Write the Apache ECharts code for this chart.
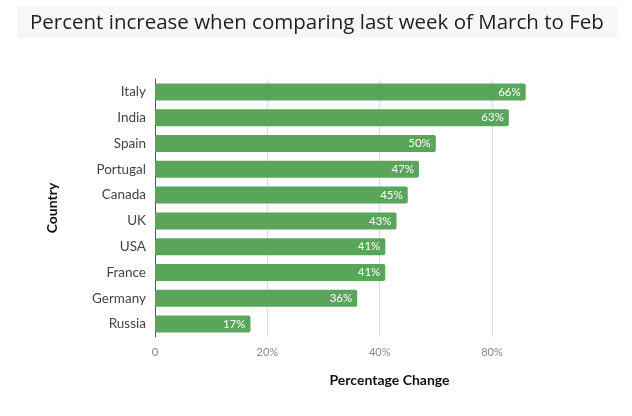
<!DOCTYPE html>
<html><head><meta charset="utf-8">
<script src="https://cdn.jsdelivr.net/npm/echarts@6/dist/echarts.min.js"></script>
<style>html,body{margin:0;padding:0;background:#fff}#c{width:632px;height:416px}</style>
</head><body><div id="c"></div>
<script>
const countries = ['Italy','India','Spain','Portugal','Canada','UK','USA','France','Germany','Russia'];
const values = [66,63,50,47,45,43,41,41,36,17];
const tickLabels = ['0','20%','40%','80%'];

const chart = echarts.init(document.getElementById('c'));
const F = 'Lato, "Noto Sans", sans-serif';
chart.setOption({
  animation: false,
  graphic: [{type:'rect', shape:{x:17,y:6,width:600,height:32}, style:{fill:'#f7f7f7'}, z:-1}],
  title: {text:'Percent increase when comparing last week of March to Feb', left:25, top:8,
    textStyle:{fontFamily:'"Open Sans", sans-serif', fontSize:20.5, fontWeight:'normal', color:'#222'}},
  grid: {left:155, right:140, top:79, height:258},
  xAxis: {type:'value', min:0, max:60, interval:20,
    name:'Percentage Change', nameLocation:'middle', nameGap:36,
    nameTextStyle:{fontFamily:F, fontSize:14, fontWeight:'bold', color:'#111', padding:[0,0,0,132]},
    axisLine:{show:false}, axisTick:{show:false},
    axisLabel:{fontFamily:F, fontSize:11, color:'#888', margin:10,
      formatter:(v)=>tickLabels[Math.round(v/20)] ?? ''},
    splitLine:{lineStyle:{color:'#ddd'}}},
  yAxis: {type:'category', data:countries, inverse:true,
    name:'Country', nameLocation:'middle', nameGap:96, nameRotate:90,
    nameTextStyle:{fontFamily:F, fontSize:14, fontWeight:'bold', color:'#111'},
    axisLine:{lineStyle:{color:'#555', width:1}}, axisTick:{show:false},
    axisLabel:{fontFamily:F, fontSize:13.5, color:'#444', margin:9}},
  series: [{type:'bar', data:values, barWidth:'66%', clip:false,
    itemStyle:{color:'#59a65b', borderRadius:2},
    label:{show:true, position:'insideRight', formatter:'{c}%', color:'#fff',
      fontFamily:F, fontSize:11.5, distance:5}}]
});
</script></body></html>
